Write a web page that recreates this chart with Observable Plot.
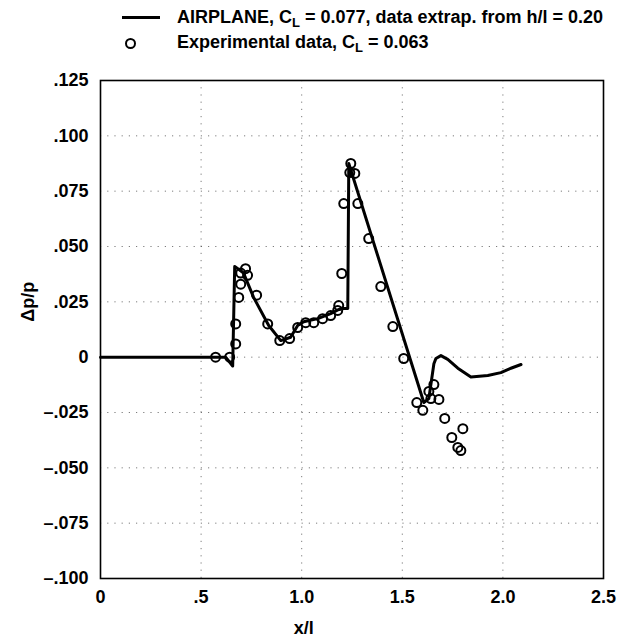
<!DOCTYPE html>
<html>
<head>
<meta charset="utf-8">
<script src="https://cdn.jsdelivr.net/npm/d3@7"></script>
<script src="https://cdn.jsdelivr.net/npm/@observablehq/plot@0.6"></script>
<style>
  html, body { margin: 0; padding: 0; background: #fff; }
  body { width: 618px; height: 640px; overflow: hidden; font-family: "Liberation Sans", Arial, sans-serif; }
  #legend { position: relative; height: 70px; font-weight: bold; font-size: 18px; color: #000; }
  .txt { position: absolute; left: 177px; white-space: nowrap; line-height: 20px; }
  .lsample { position: absolute; left: 122px; width: 38px; height: 0; border-top: 3px solid #000; }
  .csample { position: absolute; left: 125px; width: 7px; height: 7px; border: 2px solid #000; border-radius: 50%; }
  sub { font-size: 13px; vertical-align: -4px; line-height: 0; }
</style>
</head>
<body>
<div id="legend">
  <div class="lsample" style="top:16px"></div>
  <div class="txt" style="top:7px">AIRPLANE, C<sub>L</sub> = 0.077, data extrap. from h/l = 0.20</div>
  <div class="csample" style="top:38px"></div>
  <div class="txt" style="top:32px">Experimental data, C<sub>L</sub> = 0.063</div>
</div>
<div id="chart"></div>
<script>
// AIRPLANE curve (C_L = 0.077)
const lineX = [0, 0.622, 0.657, 0.667, 0.711, 0.761, 0.836, 0.896, 0.945, 0.980, 1.010, 1.080, 1.144, 1.194, 1.229, 1.234, 1.607, 1.632, 1.657, 1.667, 1.692, 1.726, 1.776, 1.841, 1.925, 1.990, 2.040, 2.090];
const lineY = [0, 0, -0.004, 0.041, 0.038, 0.027, 0.0143, 0.0075, 0.009, 0.0143, 0.016, 0.0174, 0.0197, 0.022, 0.022, 0.0875, -0.0205, -0.0187, -0.003, -0.0006, 0.0007, -0.001, -0.005, -0.009, -0.0083, -0.007, -0.005, -0.0033];

// Experimental data (C_L = 0.063)
const expX = [0.572, 0.642, 0.672, 0.672, 0.687, 0.697, 0.697, 0.721, 0.731, 0.776, 0.831, 0.891, 0.940, 0.980, 1.020, 1.060, 1.104, 1.144, 1.179, 1.184, 1.199, 1.209, 1.239, 1.244, 1.264, 1.279, 1.333, 1.393, 1.453, 1.507, 1.572, 1.602, 1.632, 1.642, 1.657, 1.682, 1.711, 1.746, 1.776, 1.791, 1.801];
const expY = [0.000, 0.000, 0.006, 0.015, 0.027, 0.033, 0.038, 0.040, 0.037, 0.028, 0.015, 0.0075, 0.0084, 0.0134, 0.0156, 0.0156, 0.0174, 0.0188, 0.0211, 0.0233, 0.0378, 0.0694, 0.0834, 0.0875, 0.083, 0.0694, 0.0536, 0.0319, 0.0138, -0.0006, -0.0205, -0.024, -0.0155, -0.0187, -0.0124, -0.0191, -0.0277, -0.0363, -0.0408, -0.0422, -0.0323];

const xTicks = [0, 0.5, 1.0, 1.5, 2.0, 2.5];
const yTicks = [-0.1, -0.075, -0.05, -0.025, 0, 0.025, 0.05, 0.075, 0.1, 0.125];

const lineData = lineX.map((x, i) => ({x, y: lineY[i]}));
const expData = expX.map((x, i) => ({x, y: expY[i]}));

const fmtX = d => d === 0 ? "0" : (d === 0.5 ? ".5" : d.toFixed(1));
const fmtY = d => {
  if (Math.abs(d) < 1e-9) return "0";
  const s = Math.abs(d).toFixed(3).replace(/^0/, "");
  return d < 0 ? "\u2013" + s : s;
};

const gridStyle = {stroke: "#444", strokeOpacity: 0.7, strokeWidth: 1, strokeDasharray: "1.2,6"};

const chart = Plot.plot({
  width: 618,
  height: 570,
  marginTop: 10,
  marginRight: 15,
  marginBottom: 62,
  marginLeft: 100,
  style: {fontFamily: "'Liberation Sans', Arial, sans-serif", fontWeight: "bold", fontSize: "18px", color: "#000", background: "#fff"},
  x: {domain: [0, 2.5]},
  y: {domain: [-0.1, 0.125]},
  marks: [
    Plot.gridX(xTicks.slice(1, -1), gridStyle),
    Plot.gridY(yTicks.slice(1, -1), gridStyle),
    Plot.axisX(xTicks, {tickFormat: fmtX, tickSize: 0, tickPadding: 12, label: null, fontSize: 18, fontWeight: "bold"}),
    Plot.axisY(yTicks, {tickFormat: fmtY, tickSize: 0, tickPadding: 12, label: null, fontSize: 18, fontWeight: "bold"}),
    Plot.frame({stroke: "#000", strokeWidth: 1.6}),
    Plot.line(lineData, {x: "x", y: "y", stroke: "#000", strokeWidth: 3, strokeLinejoin: "round"}),
    Plot.dot(expData, {x: "x", y: "y", r: 4.5, stroke: "#000", strokeWidth: 2, fill: "none"}),
    Plot.text(["x/l"], {x: () => 1.01, frameAnchor: "bottom", dy: 55, text: d => d, fontSize: 18, fontWeight: "bold"}),
    Plot.text(["\u0394p/p"], {y: () => 0.016, frameAnchor: "left", dx: -72, rotate: -90, text: d => d, fontSize: 18, fontWeight: "bold"})
  ]
});
document.getElementById("chart").appendChild(chart);
</script>
</body>
</html>
